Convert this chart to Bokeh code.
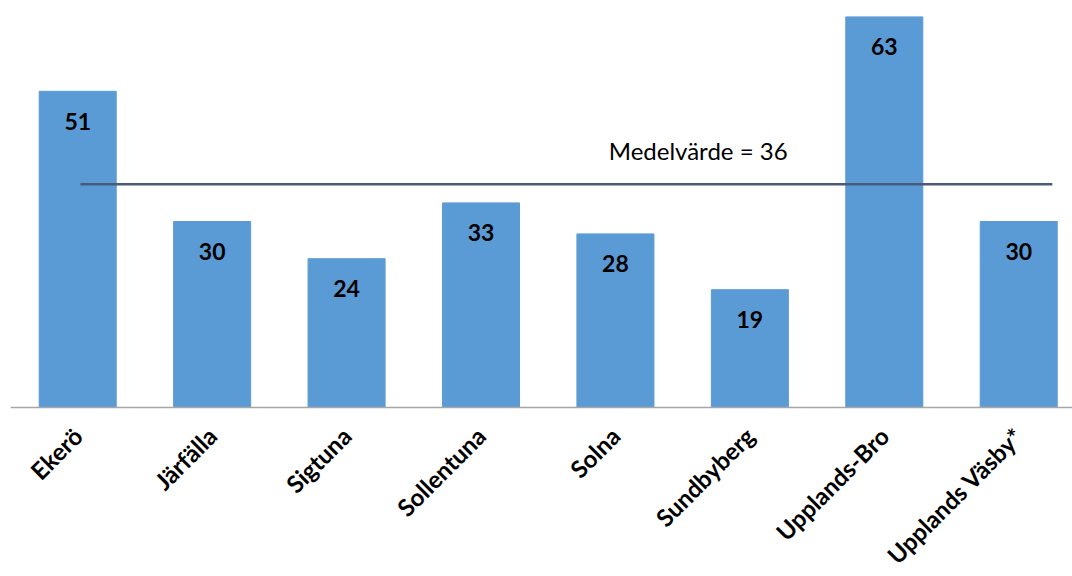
import math
from bokeh.plotting import figure
from bokeh.models import Range1d, FixedTicker, ColumnDataSource
from bokeh.core.properties import value
from bokeh.embed import file_html
from bokeh.resources import INLINE

categories = ["Ekerö", "Järfälla", "Sigtuna", "Sollentuna", "Solna",
              "Sundbyberg", "Upplands-Bro", "Upplands Väsby*"]
values = [51, 30, 24, 33, 28, 19, 63, 30]
mean_value = 36
mean_label = "Medelvärde = 36"

FONT = "Lato"
BAR_COLOR = "#5b9bd5"

n = len(categories)
xs = [i + 0.5 for i in range(n)]

src = ColumnDataSource(dict(x=xs, top=values, label=[str(v) for v in values]))

PX = 6.2  # pixels per unit
p = figure(width=1072, height=576, output_backend="svg", toolbar_location=None,
           x_range=Range1d(0, 7.9), y_range=Range1d(-169 / PX, 407 / PX),
           min_border_left=10, min_border_right=0, min_border_top=0,
           min_border_bottom=0)
p.outline_line_color = None
p.xgrid.visible = False
p.ygrid.visible = False
p.yaxis.visible = False

p.vbar(x="x", top="top", width=0.573, bottom=0, source=src,
       fill_color=BAR_COLOR, line_color=BAR_COLOR)

p.text(x="x", y="top", text="label", source=src, y_offset=30,
       text_align="center", text_baseline="middle",
       text_font=value(FONT), text_font_style="bold", text_font_size="23px",
       text_color="black")

p.line(x=[xs[0] + 0.02, n - 0.25], y=[mean_value, mean_value],
       line_color="#4a5a78", line_width=2.5)

p.text(x=[4.45], y=[mean_value], text=[mean_label], y_offset=-34,
       text_align="left", text_baseline="middle",
       text_font=value(FONT), text_font_size="24px", text_color="black")

ax = p.xaxis[0]
ax.fixed_location = 0
ax.ticker = FixedTicker(ticks=xs)
ax.major_label_overrides = {x: c for x, c in zip(xs, categories)}
ax.major_label_orientation = math.pi / 4
ax.major_label_text_font = FONT
ax.major_label_text_font_style = "bold"
ax.major_label_text_font_size = "24px"
ax.major_label_text_color = "black"
ax.major_label_standoff = 18
ax.major_tick_line_color = None
ax.minor_tick_line_color = None
ax.axis_line_color = "#a6a6a6"
ax.axis_line_width = 1.5

open("out.html", "w").write(file_html(p, INLINE))
